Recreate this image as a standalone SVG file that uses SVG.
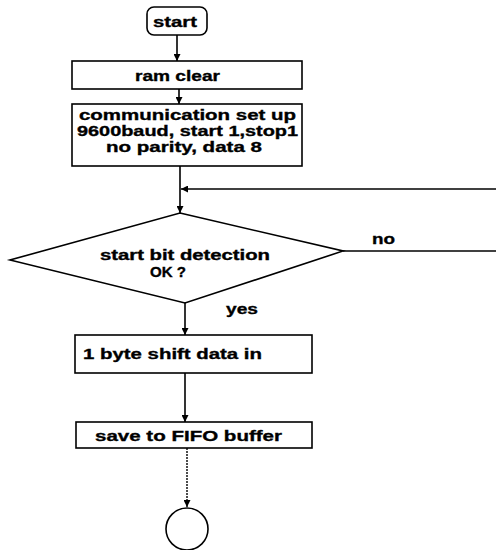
<svg xmlns="http://www.w3.org/2000/svg" width="496" height="550" viewBox="0 0 496 550">
  <defs>
    <marker id="arrow" viewBox="0 0 10 10" refX="10" refY="5" markerWidth="7" markerHeight="7" markerUnits="userSpaceOnUse" orient="auto">
      <path d="M0,0 L10,5 L0,10 z" fill="#000"/>
    </marker>
  </defs>
  <style>
    .box { fill: #fff; stroke: #000; stroke-width: 1.6; }
    .line { fill: none; stroke: #000; stroke-width: 1.6; }
    .dot { fill: none; stroke: #000; stroke-width: 1.4; stroke-dasharray: 2 1; }
    .label { font-family: "Liberation Sans", Arial, sans-serif; font-weight: bold; font-size: 15px; fill: #000; stroke: #000; stroke-width: 0.35; }
    .small { font-size: 14px; }
  </style>
  <rect width="496" height="550" fill="#fff"/>

  <!-- flow lines -->
  <g id="connectors">
    <line class="line" x1="177" y1="35" x2="177" y2="61" marker-end="url(#arrow)"/>
    <line class="line" x1="179" y1="89" x2="179" y2="104" marker-end="url(#arrow)"/>
    <line class="line" x1="180" y1="166" x2="180" y2="213" marker-end="url(#arrow)"/>
    <polyline class="line" points="343,251 496,251"/>
    <line class="line" x1="496" y1="189" x2="181" y2="189" marker-end="url(#arrow)"/>
    <line class="line" x1="185" y1="303" x2="185" y2="335" marker-end="url(#arrow)"/>
    <line class="line" x1="185" y1="373" x2="185" y2="422" marker-end="url(#arrow)"/>
    <line class="dot" x1="187" y1="448" x2="187" y2="507" marker-end="url(#arrow)"/>
  </g>

  <g id="start">
    <rect class="box" x="147" y="7" width="60" height="28" rx="7"/>
    <text class="label" x="153" y="27" textLength="44" lengthAdjust="spacingAndGlyphs">start</text>
  </g>

  <g id="ram-clear">
    <rect class="box" x="72" y="61" width="230" height="28"/>
    <text class="label" x="135" y="81" textLength="85" lengthAdjust="spacingAndGlyphs">ram clear</text>
  </g>

  <g id="comm-setup">
    <rect class="box" x="72" y="104" width="230" height="62"/>
    <text class="label" x="79" y="120" textLength="217" lengthAdjust="spacingAndGlyphs">communication set up</text>
    <text class="label" x="77" y="136" textLength="221" lengthAdjust="spacingAndGlyphs">9600baud, start 1,stop1</text>
    <text class="label" x="106" y="152" textLength="156" lengthAdjust="spacingAndGlyphs">no parity, data 8</text>
  </g>

  <g id="start-bit-check">
    <polygon class="box" points="180,213 343,251 185,303 10,260"/>
    <text class="label small" x="100" y="260" textLength="170" lengthAdjust="spacingAndGlyphs">start bit detection</text>
    <text class="label small" x="150" y="277" textLength="36" lengthAdjust="spacingAndGlyphs">OK ?</text>
    <text class="label" x="372" y="244" textLength="23" lengthAdjust="spacingAndGlyphs">no</text>
    <text class="label" x="226" y="314" textLength="32" lengthAdjust="spacingAndGlyphs">yes</text>
  </g>

  <g id="shift-in">
    <rect class="box" x="75" y="335" width="237" height="38"/>
    <text class="label" x="83" y="359" textLength="179" lengthAdjust="spacingAndGlyphs">1 byte shift data in</text>
  </g>

  <g id="save-fifo">
    <rect class="box" x="76" y="422" width="236" height="26"/>
    <text class="label" x="95" y="441" textLength="187" lengthAdjust="spacingAndGlyphs">save to FIFO buffer</text>
  </g>

  <g id="end">
    <circle class="box" cx="187" cy="529" r="21"/>
  </g>
</svg>
